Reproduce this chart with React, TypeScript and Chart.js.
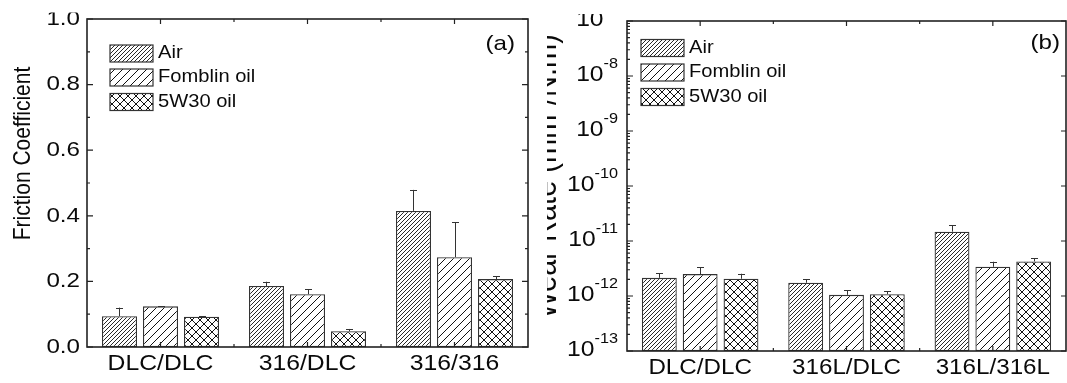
import React, { useEffect, useRef } from 'react';
import { Chart, registerables } from 'chart.js';

Chart.register(...registerables);

// ---------- data ----------
const seriesLabels = ['Air', 'Fomblin oil', '5W30 oil'];

const frictionCategories = ['DLC/DLC', '316/DLC', '316/316'];
const frictionAir = [0.094, 0.186, 0.415];
const frictionFomblin = [0.124, 0.161, 0.274];
const friction5W30 = [0.092, 0.048, 0.207];
const frictionAirErr = [0.026, 0.013, 0.064];
const frictionFomblinErr = [0.001, 0.015, 0.106];
const friction5W30Err = [0.002, 0.007, 0.009];
const frictionTickLabels = ['0.0', '0.2', '0.4', '0.6', '0.8', '1.0'];
const frictionTitle = 'Friction Coefficient';

const wearCategories = ['DLC/DLC', '316L/DLC', '316L/316L'];
const wearAir = [2.14e-12, 1.74e-12, 1.48e-11];
const wearFomblin = [2.5e-12, 1.05e-12, 3.4e-12];
const wear5W30 = [2.06e-12, 1.08e-12, 4.26e-12];
const wearAirErr = [0.43e-12, 0.29e-12, 0.45e-11];
const wearFomblinErr = [0.81e-12, 0.21e-12, 0.8e-12];
const wear5W30Err = [0.48e-12, 0.14e-12, 0.64e-12];
const wearTickExponents = [-13, -12, -11, -10, -9, -8, -7];
const wearTitle = 'Wear Rate (mm\u00B3/N.m)';

const FONT = "'Liberation Sans', Arial, Helvetica, sans-serif";
const AXIS_COLOR = '#222';
const TEXT_COLOR = '#0a0a0a';

function makePattern(kind: 'dense' | 'sparse' | 'cross'): CanvasPattern {
  const size = kind === 'dense' ? 4 : 8;
  const c = document.createElement('canvas');
  c.width = size;
  c.height = size;
  const g = c.getContext('2d')!;
  g.fillStyle = '#ffffff';
  g.fillRect(0, 0, size, size);
  g.strokeStyle = '#111';
  g.lineWidth = kind === 'dense' ? 0.9 : 1;
  const diag = (dir: number) => {
    for (let k = -1; k <= 1; k++) {
      g.beginPath();
      if (dir > 0) {
        g.moveTo(k * size, size);
        g.lineTo(k * size + size, 0);
      } else {
        g.moveTo(k * size, 0);
        g.lineTo(k * size + size, size);
      }
      g.stroke();
    }
  };
  diag(1);
  if (kind === 'cross') diag(-1);
  return g.createPattern(c, 'repeat')!;
}

function drawStretched(
  ctx: CanvasRenderingContext2D,
  text: string,
  x: number,
  y: number,
  align: 'left' | 'right' | 'center',
  size: number,
  sx: number
) {
  ctx.save();
  ctx.font = `${size}px ${FONT}`;
  ctx.textBaseline = 'middle';
  ctx.textAlign = 'left';
  const w = ctx.measureText(text).width * sx;
  const left = align === 'left' ? x : align === 'right' ? x - w : x - w / 2;
  ctx.translate(left, y);
  ctx.scale(sx, 1);
  ctx.fillStyle = TEXT_COLOR;
  ctx.fillText(text, 0, 0);
  ctx.restore();
}

type Spec = {
  kind: 'linear' | 'log';
  categories: string[];
  errs: number[][];
  patterns: CanvasPattern[];
  panelLabel: string;
  panelLabelRight: number;
  panelLabelY: number;
  legendBoxX: number;
  legendRows: number[];
  title: string;
  titleBaseline: number;
  titleCenterY: number;
  titleSize: number;
  titleClipLeft: number;
  textClipTop: number;
  catSize: number;
  catStretch: number;
  catY: number;
  tickSize: number;
  tickStretch: number;
  tickRight: number;
};

function makeDecor(spec: Spec) {
  return {
    id: 'panelDecor',
    afterDatasetsDraw(chart: any) {
      const ctx: CanvasRenderingContext2D = chart.ctx;
      const { left, right, top, bottom } = chart.chartArea;
      const xs = chart.scales.x;
      const ys = chart.scales.y;

      // error bars
      ctx.save();
      ctx.strokeStyle = '#333';
      ctx.lineWidth = 1;
      chart.data.datasets.forEach((ds: any, di: number) => {
        const meta = chart.getDatasetMeta(di);
        meta.data.forEach((bar: any, i: number) => {
          const v = ds.data[i];
          const e = spec.errs[di][i];
          const yTop = ys.getPixelForValue(v + e);
          const yBar = ys.getPixelForValue(v);
          const x = Math.round(bar.x) + 0.5;
          ctx.beginPath();
          ctx.moveTo(x, yBar);
          ctx.lineTo(x, yTop);
          ctx.moveTo(x - 3.5, Math.round(yTop) + 0.5);
          ctx.lineTo(x + 3.5, Math.round(yTop) + 0.5);
          ctx.stroke();
        });
      });
      ctx.restore();

      // frame
      ctx.save();
      ctx.strokeStyle = AXIS_COLOR;
      ctx.lineWidth = 1.6;
      ctx.strokeRect(left, top, right - left, bottom - top);

      // ticks
      ctx.lineWidth = 1.2;
      ctx.beginPath();
      const hTick = (y: number, lenL: number, lenR: number) => {
        if (lenL > 0) {
          ctx.moveTo(left, y);
          ctx.lineTo(left + lenL, y);
        }
        if (lenR > 0) {
          ctx.moveTo(right, y);
          ctx.lineTo(right - lenR, y);
        }
      };
      if (spec.kind === 'linear') {
        for (let k = 0; k <= 10; k++) {
          const y = ys.getPixelForValue(k / 10);
          const major = k % 2 === 0;
          hTick(y, major ? 6 : 3, major ? 6 : 3);
        }
      } else {
        for (let e = -13; e <= -7; e++) {
          hTick(ys.getPixelForValue(Math.pow(10, e)), 6, 5);
          if (e < -7) {
            for (let m = 2; m <= 9; m++) {
              hTick(ys.getPixelForValue(m * Math.pow(10, e)), 3, 0);
            }
          }
        }
      }
      const n = spec.categories.length;
      for (let i = 0; i < n; i++) {
        const x = xs.getPixelForValue(i);
        ctx.moveTo(x, bottom);
        ctx.lineTo(x, bottom - 5);
        ctx.moveTo(x, top);
        ctx.lineTo(x, top + 5);
        if (i < n - 1) {
          const xb = xs.getPixelForValue(i + 0.5);
          ctx.moveTo(xb, bottom);
          ctx.lineTo(xb, bottom - 3);
          ctx.moveTo(xb, top);
          ctx.lineTo(xb, top + 3);
        }
      }
      ctx.stroke();
      ctx.restore();

      // text (clipped at top like the reference crop)
      ctx.save();
      ctx.beginPath();
      ctx.rect(0, spec.textClipTop, chart.width, chart.height);
      ctx.clip();

      // y tick labels
      if (spec.kind === 'linear') {
        frictionTickLabels.forEach((lab) => {
          const y = ys.getPixelForValue(parseFloat(lab));
          drawStretched(ctx, lab, spec.tickRight, y, 'right', spec.tickSize, spec.tickStretch);
        });
      } else {
        const expSize = spec.tickSize * 0.66;
        wearTickExponents.forEach((e) => {
          const y = ys.getPixelForValue(Math.pow(10, e)) - 1;
          const expText = String(e);
          ctx.save();
          ctx.font = `${expSize}px ${FONT}`;
          const wExp = ctx.measureText(expText).width * spec.tickStretch;
          ctx.restore();
          drawStretched(ctx, expText, spec.tickRight, y - 11, 'right', expSize, spec.tickStretch);
          drawStretched(ctx, '10', spec.tickRight - wExp, y, 'right', spec.tickSize, spec.tickStretch);
        });
      }

      // category labels
      spec.categories.forEach((c, i) => {
        drawStretched(ctx, c, xs.getPixelForValue(i), spec.catY, 'center', spec.catSize, spec.catStretch);
      });

      // panel label
      drawStretched(ctx, spec.panelLabel, spec.panelLabelRight, spec.panelLabelY, 'right', 21, 1.15);

      // legend
      chart.data.datasets.forEach((ds: any, di: number) => {
        const cy = spec.legendRows[di];
        const bx = spec.legendBoxX;
        ctx.save();
        ctx.fillStyle = spec.patterns[di];
        ctx.fillRect(bx, cy - 8.5, 43, 17);
        ctx.strokeStyle = '#333';
        ctx.lineWidth = 1.2;
        ctx.strokeRect(bx, cy - 8.5, 43, 17);
        ctx.restore();
        drawStretched(ctx, ds.label, bx + 48, cy, 'left', 17.5, 1.15);
      });
      ctx.restore();

      // axis title (rotated, possibly clipped at left)
      ctx.save();
      ctx.beginPath();
      ctx.rect(spec.titleClipLeft, 0, chart.width, chart.height);
      ctx.clip();
      ctx.translate(spec.titleBaseline, spec.titleCenterY);
      ctx.rotate(-Math.PI / 2);
      ctx.scale(1, 1.17);
      ctx.font = `${spec.titleSize}px ${FONT}`;
      ctx.textAlign = 'center';
      ctx.textBaseline = 'alphabetic';
      ctx.fillStyle = TEXT_COLOR;
      ctx.fillText(spec.title, 0, 0);
      ctx.restore();
    },
  };
}

function buildChart(
  canvas: HTMLCanvasElement,
  spec: Spec,
  values: number[][],
  geom: { yWidth: number; xHeight: number; padTop: number; padRight: number }
) {
  const datasets = values.map((vals, i) => ({
    label: seriesLabels[i],
    data: vals,
    backgroundColor: spec.patterns[i],
    borderColor: '#333',
    borderWidth: 1.3,
    borderSkipped: false as const,
    categoryPercentage: 0.837,
    barPercentage: 0.854,
  }));
  const yScale: any =
    spec.kind === 'linear'
      ? { type: 'linear', min: 0, max: 1 }
      : { type: 'logarithmic', min: 1e-13, max: 1e-7 };
  return new Chart(canvas, {
    type: 'bar',
    data: { labels: spec.categories, datasets },
    options: {
      responsive: false,
      animation: false,
      devicePixelRatio: 1,
      events: [],
      layout: { padding: { left: 0, right: geom.padRight, top: geom.padTop, bottom: 0 } },
      plugins: { legend: { display: false }, tooltip: { enabled: false }, title: { display: false } },
      scales: {
        x: {
          type: 'category',
          offset: true,
          grid: { display: false },
          border: { display: false },
          ticks: { display: false },
          afterFit: (s: any) => {
            s.height = geom.xHeight;
          },
        },
        y: {
          ...yScale,
          grid: { display: false },
          border: { display: false },
          ticks: { display: false },
          afterFit: (s: any) => {
            s.width = geom.yWidth;
          },
        },
      },
    },
    plugins: [makeDecor(spec)],
  });
}

export default function App() {
  const refA = useRef<HTMLCanvasElement>(null);
  const refB = useRef<HTMLCanvasElement>(null);

  useEffect(() => {
    const patterns = [makePattern('dense'), makePattern('sparse'), makePattern('cross')];
    const chartA = buildChart(
      refA.current!,
      {
        kind: 'linear',
        categories: frictionCategories,
        errs: [frictionAirErr, frictionFomblinErr, friction5W30Err],
        patterns,
        panelLabel: '(a)',
        panelLabelRight: 515,
        panelLabelY: 44,
        legendBoxX: 110,
        legendRows: [53.5, 77.5, 102],
        title: frictionTitle,
        titleBaseline: 30,
        titleCenterY: 153.5,
        titleSize: 21,
        titleClipLeft: 0,
        textClipTop: 12.5,
        catSize: 21.5,
        catStretch: 1.15,
        catY: 364,
        tickSize: 21,
        tickStretch: 1.15,
        tickRight: 80,
      },
      [frictionAir, frictionFomblin, friction5W30],
      { yWidth: 87, xHeight: 36, padTop: 19, padRight: 2 }
    );
    const chartB = buildChart(
      refB.current!,
      {
        kind: 'log',
        categories: wearCategories,
        errs: [wearAirErr, wearFomblinErr, wear5W30Err],
        patterns,
        panelLabel: '(b)',
        panelLabelRight: 530,
        panelLabelY: 43,
        legendBoxX: 111,
        legendRows: [48, 72.5, 97],
        title: wearTitle,
        titleBaseline: 26,
        titleCenterY: 176.5,
        titleSize: 29,
        titleClipLeft: 17,
        textClipTop: 14,
        catSize: 22,
        catStretch: 1.1,
        catY: 368,
        tickSize: 22,
        tickStretch: 1.12,
        tickRight: 88,
      },
      [wearAir, wearFomblin, wear5W30],
      { yWidth: 97, xHeight: 32, padTop: 21, padRight: 1 }
    );
    return () => {
      chartA.destroy();
      chartB.destroy();
    };
  }, []);

  return (
    <div style={{ position: 'absolute', left: 0, top: 0, width: 1067, height: 383, background: '#fff', overflow: 'hidden' }}>
      <canvas ref={refA} width={530} height={383} style={{ position: 'absolute', left: 0, top: 0 }} />
      <canvas ref={refB} width={537} height={383} style={{ position: 'absolute', left: 530, top: 0 }} />
    </div>
  );
}
